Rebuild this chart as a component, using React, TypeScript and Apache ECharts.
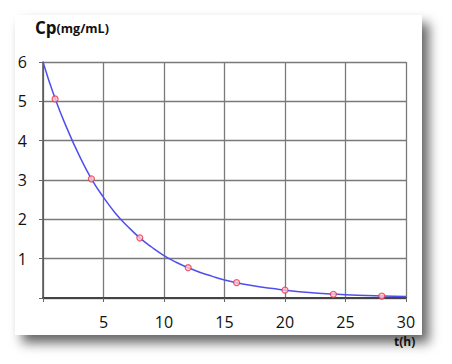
import React, { useEffect, useRef } from "react";
import * as echarts from "echarts";

const measuredT = [1, 4, 8, 12, 16, 20, 24, 28];
const measuredCp = [5.06, 3.03, 1.53, 0.77, 0.39, 0.2, 0.095, 0.05];
const curveT = [0, 1, 2, 3, 4, 5, 6, 7, 8, 9, 10, 11, 12, 13, 14, 15, 16, 17, 18, 19, 20, 22, 24, 26, 28, 30];
const curveCp = [6.0, 5.07, 4.3, 3.62, 3.03, 2.56, 2.15, 1.82, 1.53, 1.29, 1.08, 0.91, 0.77, 0.65, 0.55, 0.46, 0.39, 0.33, 0.28, 0.24, 0.2, 0.14, 0.1, 0.07, 0.05, 0.035];
const xTicks = [0, 5, 10, 15, 20, 25, 30];
const yTicks = [0, 1, 2, 3, 4, 5, 6];

const FONT = "'Open Sans', 'Noto Sans', sans-serif";

export default function App() {
  const ref = useRef<HTMLDivElement>(null);
  useEffect(() => {
    const chart = echarts.init(ref.current!, null, { renderer: "svg" });
    chart.setOption({
      animation: false,
      backgroundColor: "#ffffff",
      textStyle: { fontFamily: FONT },
      graphic: [
        {
          type: "rect",
          z: -10,
          shape: { x: 15, y: 15, width: 407, height: 320 },
          style: {
            fill: "#ffffff",
            shadowBlur: 12,
            shadowColor: "rgba(0,0,0,0.6)",
            shadowOffsetX: 7,
            shadowOffsetY: 8,
          },
        },
        {
          type: "text",
          left: 35,
          top: 19,
          style: {
            text: "{a|Cp}{b|(mg/mL)}",
            rich: {
              a: { fontSize: 17, fontWeight: "bold", fontFamily: FONT, fill: "#111" },
              b: { fontSize: 12.5, fontWeight: "bold", fontFamily: FONT, fill: "#111", padding: [2, 0, 0, 0] },
            },
          },
        },
        {
          type: "text",
          left: 394,
          top: 335,
          style: { text: "t(h)", fontSize: 12, fontWeight: "bold", fontFamily: FONT, fill: "#111" },
        },
      ],
      grid: { left: 43, top: 62, right: 46, bottom: 66 },
      xAxis: {
        type: "value",
        min: xTicks[0],
        max: xTicks[xTicks.length - 1],
        interval: 5,
        axisLine: { show: true, lineStyle: { color: "#444", width: 2 } },
        axisTick: { show: true, length: 4, lineStyle: { color: "#666" } },
        splitLine: { show: true, lineStyle: { color: "#7a7a7a", width: 1.3 } },
        axisLabel: {
          color: "#111",
          fontSize: 16,
          fontFamily: FONT,
          margin: 16,
          formatter: (v: number) => (v === 0 ? "" : String(v)),
        },
      },
      yAxis: {
        type: "value",
        min: yTicks[0],
        max: yTicks[yTicks.length - 1],
        interval: 1,
        axisLine: { show: true, lineStyle: { color: "#555", width: 1.5 } },
        axisTick: { show: true, length: 4, lineStyle: { color: "#666" } },
        splitLine: { show: true, lineStyle: { color: "#7a7a7a", width: 1.3 } },
        axisLabel: {
          color: "#111",
          fontSize: 16,
          fontFamily: FONT,
          margin: 16,
          formatter: (v: number) => (v === 0 ? "" : String(v)),
        },
      },
      series: [
        {
          type: "line",
          data: curveT.map((t, i) => [t, curveCp[i]]),
          smooth: true,
          showSymbol: false,
          lineStyle: { color: "#4f4ff0", width: 1.5 },
          z: 2,
        },
        {
          type: "scatter",
          data: measuredT.map((t, i) => [t, measuredCp[i]]),
          symbol: "circle",
          symbolSize: 6,
          itemStyle: { color: "#ffc8d0", borderColor: "#e8344a", borderWidth: 1.2 },
          z: 3,
        },
      ],
    });
    return () => chart.dispose();
  }, []);
  return (
    <div
      ref={ref}
      style={{ position: "fixed", left: 0, top: 0, width: 452, height: 364 }}
    />
  );
}
